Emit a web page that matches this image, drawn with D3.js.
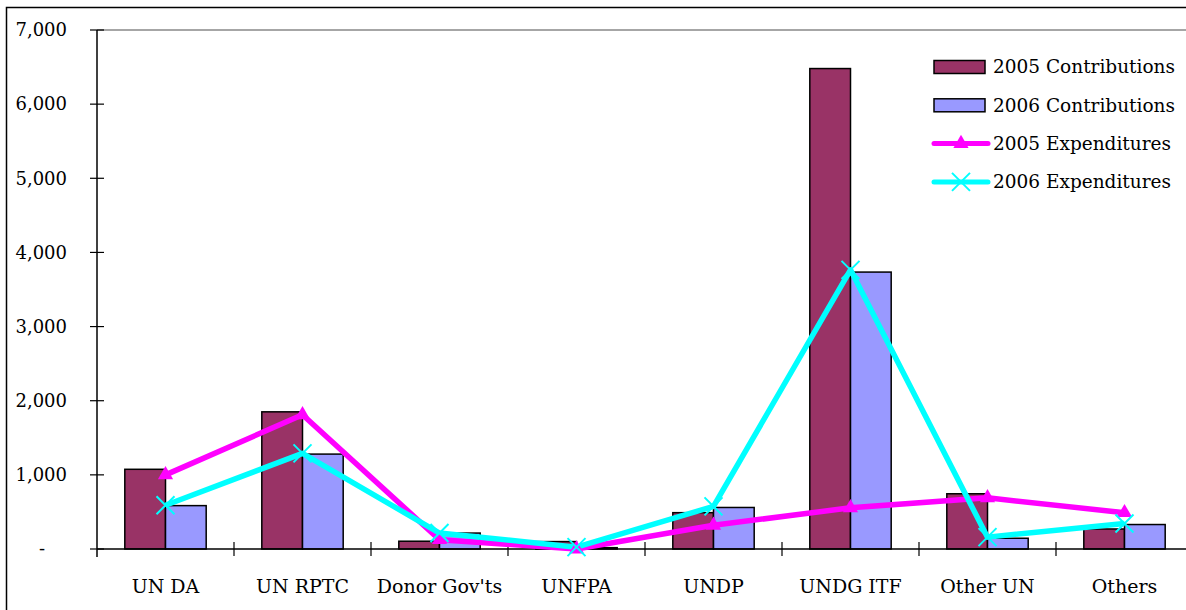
<!DOCTYPE html>
<html>
<head>
<meta charset="utf-8">
<script src="https://cdn.jsdelivr.net/npm/d3@7"></script>
<style>
  body { margin: 0; background: #fff; }
  text { font-family: "DejaVu Serif", serif; fill: #000; }
</style>
</head>
<body>
<div class="chart"></div>
<script>
// 数据
const categories = ['UN DA', 'UN RPTC', "Donor Gov'ts", 'UNFPA', 'UNDP', 'UNDG ITF', 'Other UN', 'Others']
const contrib2005 = [1075, 1850, 105, 100, 490, 6480, 745, 270]
const contrib2006 = [585, 1280, 215, 18, 560, 3735, 145, 330]
const exp2005 = [1000, 1810, 125, 0, 320, 555, 690, 490]
const exp2006 = [590, 1290, 215, 25, 575, 3765, 160, 345]
const yTicks = [0, 1000, 2000, 3000, 4000, 5000, 6000, 7000]
const legendLabels = ['2005 Contributions', '2006 Contributions', '2005 Expenditures', '2006 Expenditures']

const width = 1186
const height = 610
const plotLeft = 97
const plotTop = 30
const plotBottom = 549
const plotRight = 1193

const svg = d3.select('.chart').append('svg')
  .attr('width', width)
  .attr('height', height)

// 外框
svg.append('rect')
  .attr('x', 6.5).attr('y', 7.5)
  .attr('width', 1300).attr('height', 800)
  .attr('fill', 'none').attr('stroke', '#000').attr('stroke-width', 1.5)

const x = d3.scaleBand().domain(categories).range([plotLeft, plotRight]).padding(0)
const y = d3.scaleLinear().domain([0, 7000]).range([plotBottom, plotTop])
const barW = x.bandwidth() * 0.297
const cx = c => x(c) + x.bandwidth() / 2

// 绘图区上边框
svg.append('line')
  .attr('x1', plotLeft).attr('x2', width)
  .attr('y1', y(7000)).attr('y2', y(7000))
  .attr('stroke', '#888').attr('stroke-width', 1.5)

// 柱子
const barSeries = [
  { values: contrib2005, color: '#993366', offset: -1 },
  { values: contrib2006, color: '#9999FF', offset: 0 }
]
barSeries.forEach(s => {
  svg.append('g').selectAll('rect')
    .data(categories)
    .join('rect')
    .attr('x', (d) => cx(d) + s.offset * barW)
    .attr('y', (d, i) => y(s.values[i]))
    .attr('width', barW)
    .attr('height', (d, i) => y(0) - y(s.values[i]))
    .attr('fill', s.color)
    .attr('stroke', '#000')
    .attr('stroke-width', 1.5)
})

// y轴
const yAxis = svg.append('g').attr('transform', `translate(${plotLeft},0)`)
yAxis.append('line')
  .attr('x1', 0).attr('x2', 0)
  .attr('y1', y(7000)).attr('y2', y(0) + 8)
  .attr('stroke', '#000').attr('stroke-width', 1.5)
yAxis.selectAll('.tick')
  .data(yTicks)
  .join('line')
  .attr('x1', -7).attr('x2', 7)
  .attr('y1', d => y(d)).attr('y2', d => y(d))
  .attr('stroke', '#000').attr('stroke-width', 1.2)
yAxis.selectAll('text')
  .data(yTicks)
  .join('text')
  .attr('x', d => d === 0 ? -52 : -30)
  .attr('y', d => y(d))
  .attr('dy', '0.35em')
  .attr('text-anchor', 'end')
  .style('font-size', '18px')
  .text(d => d === 0 ? '-' : d3.format(',')(d))

// x轴
const xAxis = svg.append('g')
xAxis.append('line')
  .attr('x1', plotLeft).attr('x2', width)
  .attr('y1', y(0)).attr('y2', y(0))
  .attr('stroke', '#000').attr('stroke-width', 1.5)
xAxis.selectAll('.tick')
  .data(categories.slice(1))
  .join('line')
  .attr('x1', d => x(d)).attr('x2', d => x(d))
  .attr('y1', y(0) - 7).attr('y2', y(0) + 7)
  .attr('stroke', '#000').attr('stroke-width', 1.2)
xAxis.selectAll('text')
  .data(categories)
  .join('text')
  .attr('x', d => cx(d))
  .attr('y', 593)
  .attr('text-anchor', 'middle')
  .style('font-size', '19px')
  .text(d => d)

// 折线
const line = d3.line()
  .x((d, i) => cx(categories[i]))
  .y(d => y(d))

svg.append('path')
  .datum(exp2005)
  .attr('d', line)
  .attr('fill', 'none')
  .attr('stroke', '#FF00FF')
  .attr('stroke-width', 5.5)
  .attr('stroke-linejoin', 'round')

svg.append('path')
  .datum(exp2006)
  .attr('d', line)
  .attr('fill', 'none')
  .attr('stroke', '#00FFFF')
  .attr('stroke-width', 5.5)
  .attr('stroke-linejoin', 'round')

const tri = d3.symbol().type(d3.symbolTriangle).size(100)
const cross = 'M-9,-9L9,9M-9,9L9,-9'

svg.append('g').selectAll('path')
  .data(exp2005)
  .join('path')
  .attr('transform', (d, i) => `translate(${cx(categories[i])},${y(d)})`)
  .attr('d', tri)
  .attr('fill', '#FF00FF')

svg.append('g').selectAll('path')
  .data(exp2006)
  .join('path')
  .attr('transform', (d, i) => `translate(${cx(categories[i])},${y(d)})`)
  .attr('d', cross)
  .attr('fill', 'none')
  .attr('stroke', '#00FFFF')
  .attr('stroke-width', 2)

// 图例
const legend = svg.append('g').attr('transform', 'translate(934,67)')
legendLabels.forEach((label, i) => {
  const g = legend.append('g').attr('transform', `translate(0,${i * 38.3})`)
  if (i < 2) {
    g.append('rect')
      .attr('x', 0).attr('y', -6.5)
      .attr('width', 51).attr('height', 13)
      .attr('fill', barSeries[i].color)
      .attr('stroke', '#000').attr('stroke-width', 1.5)
  } else {
    const color = i === 2 ? '#FF00FF' : '#00FFFF'
    g.append('line')
      .attr('x1', 0).attr('x2', 54)
      .attr('y1', 0).attr('y2', 0)
      .attr('stroke', color).attr('stroke-width', 5)
      .attr('stroke-linecap', 'round')
    if (i === 2) {
      g.append('path').attr('transform', 'translate(27,0)').attr('d', tri).attr('fill', color)
    } else {
      g.append('path').attr('transform', 'translate(27,0)').attr('d', cross)
        .attr('fill', 'none').attr('stroke', color).attr('stroke-width', 2)
    }
  }
  g.append('text')
    .attr('x', 59).attr('y', 0)
    .attr('dy', '0.35em')
    .style('font-size', '18.5px')
    .text(label)
})
</script>
</body>
</html>
